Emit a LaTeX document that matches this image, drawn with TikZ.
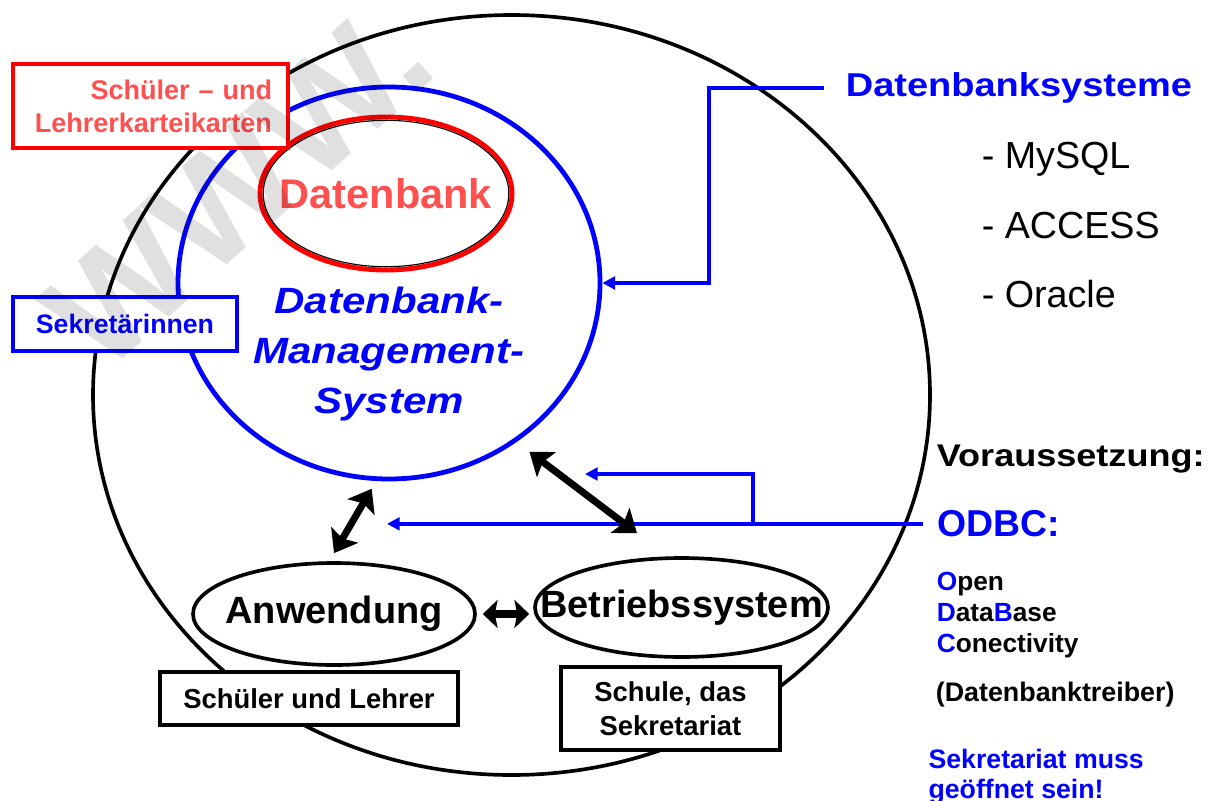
\documentclass[tikz,border=0pt]{standalone}
\usepackage{fontspec}
\setmainfont{Liberation Sans}
\newfontfamily\breitfont{Liberation Sans}[FakeStretch=1.15]
\usepackage{xcolor}
\usepackage{tikz}
\usetikzlibrary{matrix,shapes.geometric,arrows.meta,calc}
\definecolor{hellrot}{RGB}{255,80,80}

\begin{document}
\begin{tikzpicture}[>={Triangle[length=9pt,width=9pt]},line width=2.6pt,
	every node/.style={inner sep=0pt},
	kasten/.style={draw,fill=white,line width=2.8pt},
	oval/.style={ellipse,draw},
	dickpfeil/.style={{Stealth[length=15pt,width=22pt,inset=3pt]}-{Stealth[length=15pt,width=22pt,inset=3pt]},line width=5pt,black},
	kurzpfeil/.style={{Stealth[length=10.5pt,width=20pt,inset=2pt]}-{Stealth[length=10.5pt,width=20pt,inset=2pt]},line width=5pt,black},
	blaupfeil/.style={->,color=blue,line width=2.7pt},
	]
\useasboundingbox (0,0) rectangle (30.575,-20);

% Kreise
\node[oval,minimum width=20.925cm,minimum height=19cm] (welt) at (12.7875,-9.875) {};
\node[oval,draw=blue,line width=3.4pt,minimum width=10.55cm,minimum height=9.8cm] (dbms) at (9.725,-7.075) {};
\node[oval,draw=red,line width=3.5pt,minimum width=6.3cm,minimum height=3.825cm,
	label={[text=hellrot,font=\bfseries\fontsize{29.5}{35}\selectfont]center:Datenbank}] (db) at (9.65,-4.8375) {};
\draw[line width=0.8pt] (db.center) ellipse [x radius=3.07cm,y radius=1.83cm];
\node[text=blue,align=center,font=\breitfont\bfseries\itshape\fontsize{26}{35.6}\selectfont] (dbmstext) at (9.725,-8.84) {Datenbank-\\Management-\\System};

\node[oval,fill=white,minimum width=7.05cm,minimum height=2.55cm,
	label={[font=\bfseries\fontsize{27}{32}\selectfont]center:Anwendung}] (anw) at (8.35,-15.35) {};
\node[oval,fill=white,minimum width=7.325cm,minimum height=2.475cm,
	label={[font=\bfseries\fontsize{27}{32}\selectfont]center:Betriebssystem}] (bs) at (17.0375,-15.1875) {};

% Kaesten
\node[kasten,draw=red,line width=3.2pt,text=hellrot,text width=6.075cm,inner xsep=0.4cm,minimum height=2.1cm,
	align=right,font=\bfseries\fontsize{19.2}{23.3}\selectfont] (karten) at (3.7625,-2.65) {Schüler – und\\Lehrerkarteikarten};
\node[kasten,draw=blue,text=blue,minimum width=5.6cm,minimum height=1.35cm,
	font=\bfseries\fontsize{19}{23}\selectfont] (sekr) at (3.125,-8.1) {Sekretärinnen};
\node[kasten,minimum width=7.45cm,minimum height=1.325cm,
	font=\bfseries\fontsize{19.5}{23}\selectfont] (schueler) at (7.725,-17.4625) {Schüler und Lehrer};
\node[kasten,minimum width=5.475cm,minimum height=2.075cm,align=center,
	font=\bfseries\fontsize{19.5}{24}\selectfont] (schule) at (16.7625,-17.7125) {Schule, das\\Sekretariat};

% rechte Seite
\node[anchor=base west,text=blue,font=\breitfont\bfseries\fontsize{23.5}{28}\selectfont] (dbsys) at (21.1,-2.4175) {Datenbanksysteme};
\matrix [matrix of nodes,anchor=north west,inner sep=0pt,
	nodes={anchor=base west,text height=1.2375cm,text depth=0.5cm,font=\fontsize{26.8}{32}\selectfont},
	](liste) at (24.5,-2.9375){
	- MySQL\\
	- ACCESS\\
	- Oracle\\
};
\node[anchor=base west,font=\breitfont\bfseries\fontsize{22.3}{27}\selectfont] (vor) at (23.375,-11.6675) {Voraussetzung:};
\node[anchor=base west,text=blue,font=\bfseries\fontsize{26.6}{32}\selectfont] (odbc) at (23.4,-13.4175) {ODBC:};
\matrix [matrix of nodes,anchor=north west,inner sep=0pt,
	nodes={anchor=base west,text height=0.55cm,text depth=0.221cm,font=\bfseries\fontsize{18.7}{22}\selectfont},
	](odbcname) at (23.375,-14.175){
	\textcolor{blue}{O}pen\\
	\textcolor{blue}{D}ata\textcolor{blue}{B}ase\\
	\textcolor{blue}{C}onectivity\\
};
\node[anchor=base west,font=\bfseries\fontsize{19.1}{23}\selectfont] (treiber) at (23.35,-17.5425) {(Datenbanktreiber)};
\node[anchor=north west,align=left,text=blue,font=\bfseries\fontsize{19}{21.3}\selectfont] (offen) at (23.1675,-18.675) {Sekretariat muss\\geöffnet sein!};

% Verbindungen
\coordinate (odbcziel) at (9.675,-13.1);
\coordinate (abzweig) at (18.825,-13.1);
\coordinate (odbcziel2) at (14.625,-11.85);

\draw[blaupfeil] ([xshift=-0.5cm]dbsys.west) -- ++(-2.875,0) |- (dbms.east);
\draw[blaupfeil] ([xshift=-0.325cm]odbc.west) -- (odbc.west -| odbcziel);
\draw[blaupfeil] (odbc.west -| abzweig) |- (odbcziel2);

\draw[dickpfeil] ([yshift=0.2cm]anw.north) -- ([yshift=-0.2cm]dbms.265);
\draw[dickpfeil] ([shift={(0.23,-0.31)}]dbms.310) -- ([shift={(-1.1125,0.575)}]bs.north);
\draw[kurzpfeil] ([xshift=0.15cm]anw.east) -- ([xshift=-0.1cm]anw.east -| bs.west);

% Wasserzeichen
\node[rotate=42,text=black,opacity=0.12,font=\bfseries\fontsize{106}{106}\selectfont] (wz) at (5.95,-4.65) {WWW.};
\end{tikzpicture}
\end{document}
